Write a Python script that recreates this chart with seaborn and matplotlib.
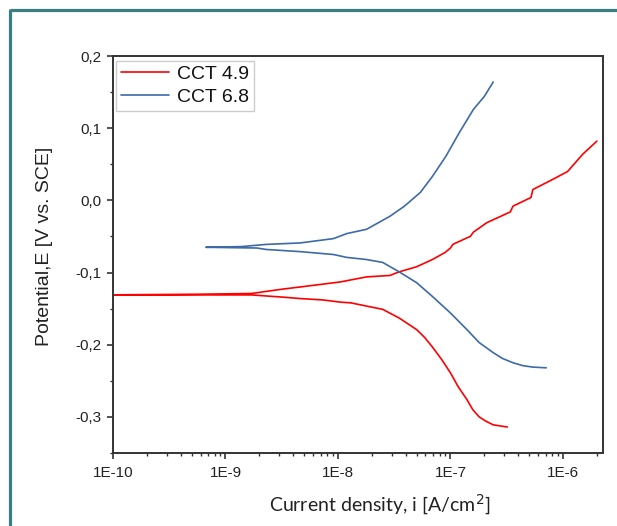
import matplotlib
matplotlib.use("Agg")
import matplotlib.pyplot as plt
from matplotlib.lines import Line2D
from matplotlib.ticker import LogLocator, NullFormatter, MultipleLocator
import numpy as np
import pandas as pd
import seaborn as sns

# Potentiodynamic polarization scans: current density (A/cm2) vs potential (V vs SCE)
# Each scan runs from the cathodic end, through Ecorr, out along the anodic branch.
cct49_current = [3.2e-7, 2.4e-7, 2.07e-7, 1.8e-7, 1.58e-7, 1.4e-7, 1.17e-7, 1.0e-7,
                 8.4e-8, 6.9e-8, 5.9e-8, 5.0e-8, 3.5e-8,
                 2.5e-8, 1.3e-8, 1.05e-8, 7.4e-9, 4.6e-9, 3.2e-9, 1.7e-9, 6.0e-10, 8.0e-11,
                 6.0e-10, 1.7e-9, 3.2e-9, 4.6e-9, 7.4e-9, 1.05e-8, 1.8e-8, 2.9e-8,
                 3.5e-8, 5.0e-8, 6.9e-8, 9.0e-8, 1.0e-7, 1.05e-7, 1.4e-7, 1.5e-7,
                 1.6e-7, 2.1e-7, 3.4e-7, 3.6e-7, 5.2e-7, 5.4e-7, 8.1e-7, 1.1e-6,
                 1.5e-6, 2.0e-6]
cct49_potential = [-0.314, -0.311, -0.306, -0.300, -0.290, -0.276, -0.258, -0.239,
                   -0.221, -0.203, -0.190, -0.179, -0.163,
                   -0.151, -0.142, -0.141, -0.138, -0.136, -0.134, -0.131, -0.131, -0.131,
                   -0.130, -0.129, -0.123, -0.120, -0.116, -0.113, -0.106, -0.104,
                   -0.099, -0.092, -0.082, -0.072, -0.066, -0.061, -0.052, -0.050,
                   -0.044, -0.031, -0.016, -0.008, 0.004, 0.015, 0.029, 0.040,
                   0.064, 0.082]

cct68_current = [7.1e-7, 5.4e-7, 4.4e-7, 3.6e-7, 2.9e-7, 2.4e-7, 1.8e-7, 1.4e-7,
                 1.0e-7, 6.9e-8, 5.0e-8, 3.5e-8, 2.5e-8, 1.8e-8, 1.2e-8, 9.1e-9,
                 4.6e-9, 2.3e-9, 1.9e-9, 6.7e-10,
                 1.4e-9, 2.3e-9, 4.6e-9, 9.1e-9, 1.2e-8, 1.8e-8, 2.9e-8, 3.9e-8,
                 5.4e-8, 6.9e-8, 9.1e-8, 1.2e-7, 1.6e-7, 2.0e-7, 2.4e-7]
cct68_potential = [-0.232, -0.231, -0.229, -0.225, -0.219, -0.211, -0.197, -0.179,
                   -0.156, -0.133, -0.114, -0.099, -0.086, -0.082, -0.079, -0.075,
                   -0.071, -0.068, -0.066, -0.065,
                   -0.064, -0.061, -0.059, -0.053, -0.046, -0.040, -0.022, -0.008,
                   0.011, 0.033, 0.061, 0.094, 0.126, 0.144, 0.164]

series_names = ["CCT 4.9", "CCT 6.8"]
series_colors = ["#ff0000", "#3d6aa8"]

x_tick_values = [1e-10, 1e-9, 1e-8, 1e-7, 1e-6]
x_tick_labels = ["1E-10", "1E-9", "1E-8", "1E-7", "1E-6"]
y_tick_values = [-0.3, -0.2, -0.1, 0.0, 0.1, 0.2]
y_tick_labels = ["-0,3", "-0,2", "-0,1", "0,0", "0,1", "0,2"]

sns.set_theme(style="ticks")
plt.rcParams["font.family"] = ["Liberation Sans", "DejaVu Sans"]

fig = plt.figure(figsize=(6.17, 5.26), dpi=100)
ax = fig.add_axes([0.1831, 0.1388, 0.7942, 0.7547])

frames = [
    pd.DataFrame({"i": cct49_current, "E": cct49_potential, "sample": series_names[0]}),
    pd.DataFrame({"i": cct68_current, "E": cct68_potential, "sample": series_names[1]}),
]
for df, color in zip(frames, series_colors):
    sns.lineplot(data=df, x="i", y="E", sort=False, estimator=None, color=color,
                 linewidth=1.2, ax=ax, label=df["sample"].iloc[0])

ax.set_xscale("log")
ax.set_xlim(1e-10, 2.27e-6)
ax.set_ylim(-0.35, 0.2)

ax.set_xticks(x_tick_values)
ax.set_xticklabels(x_tick_labels)
ax.xaxis.set_minor_locator(LogLocator(base=10, subs=np.arange(2, 10)))
ax.xaxis.set_minor_formatter(NullFormatter())
ax.set_yticks(y_tick_values)
ax.set_yticklabels(y_tick_labels)
ax.yaxis.set_minor_locator(MultipleLocator(0.05))

ax.tick_params(axis="both", which="major", direction="out", length=4.5, width=1.2,
               color="#333333", labelsize=11, labelcolor="#222222", pad=4)
ax.tick_params(axis="both", which="minor", direction="out", length=2.5, width=1.0,
               color="#333333")
ax.tick_params(axis="x", which="major", pad=5)

for side in ["left", "bottom", "right", "top"]:
    ax.spines[side].set_visible(True)
    ax.spines[side].set_color("#333333")
    ax.spines[side].set_linewidth(1.4)

ax.set_ylabel("Potential,E [V vs. SCE]", fontsize=14, color="#222222")
ax.yaxis.set_label_coords(-0.139, 0.52)
ax.yaxis.label.set_va("center")
ax.set_xlabel("Current density, i [A/cm$^2$]", fontsize=14, color="#222222",
              family=["Lato", "DejaVu Sans"])
ax.xaxis.set_label_coords(0.545, -0.131)
ax.xaxis.label.set_va("center")

leg = ax.legend(loc="upper left", bbox_to_anchor=(0.006, 0.988), borderaxespad=0,
                fontsize=14, frameon=True, fancybox=False, framealpha=1,
                edgecolor="#cccccc", handlelength=2.5, handletextpad=0.4,
                borderpad=0.25, labelspacing=0.25)
leg.get_frame().set_linewidth(1.0)
for txt in leg.get_texts():
    txt.set_color("#111111")

# teal border along the top and left of the figure
border_color = "#3c7f82"
fig.add_artist(Line2D([10 / 617, 1.0], [1 - 10 / 526, 1 - 10 / 526],
                      transform=fig.transFigure, color=border_color, linewidth=2.3,
                      solid_capstyle="butt"))
fig.add_artist(Line2D([10 / 617, 10 / 617], [0.0, 1 - 10 / 526 + 0.002],
                      transform=fig.transFigure, color=border_color, linewidth=2.3,
                      solid_capstyle="butt"))

fig.savefig("out.png", dpi=100)
